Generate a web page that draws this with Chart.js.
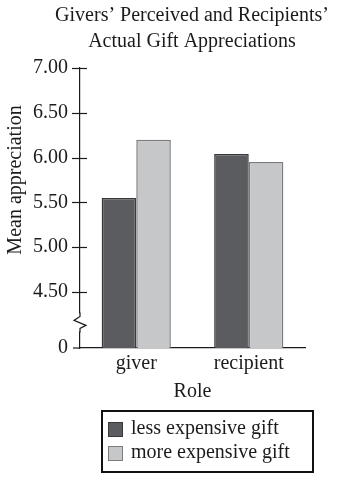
<!DOCTYPE html>
<html>
<head>
<meta charset="utf-8">
<title>Gift Appreciations</title>
<script src="https://cdn.jsdelivr.net/npm/chart.js@4.4.1/dist/chart.umd.min.js"></script>
<style>
html, body { margin: 0; padding: 0; background: #fff; }
canvas { display: block; }
</style>
</head>
<body>
<canvas id="chart" width="348" height="485"></canvas>
<script>
var roles = ['giver', 'recipient'];
var seriesNames = ['less expensive gift', 'more expensive gift'];
var lessExpensive = [5.55, 6.04];
var moreExpensive = [6.20, 5.95];
var yTickValues = [4.50, 5.00, 5.50, 6.00, 6.50, 7.00];
var titleLines = ['Givers\u2019 Perceived and Recipients\u2019', 'Actual Gift Appreciations'];
var yTitle = 'Mean appreciation';
var xTitle = 'Role';

// the axis is cut: everything below the break is shown as "0"
var axisFloor = 3.874;
var axisBreak = 4.16;

var ink = '#1d1a1b';
var serif = '"Liberation Serif", "DejaVu Serif", serif';
var fills = ['#5b5c60', '#c6c7c9'];
var edges = ['#38383b', '#7c7c80'];

function font(size) {
    return size + 'px ' + serif;
}

var decorPlugin = {
    id: 'decor',
    afterDraw: function (chart) {
        var ctx = chart.ctx;
        var area = chart.chartArea;
        var y = chart.scales.y;
        var left = area.left;
        ctx.save();
        ctx.fillStyle = ink;
        ctx.strokeStyle = ink;

        // title
        ctx.font = font(20);
        ctx.textAlign = 'center';
        ctx.textBaseline = 'alphabetic';
        ctx.fillText(titleLines[0], 192, 21);
        ctx.fillText(titleLines[1], 192, 47);

        // axis titles
        ctx.fillText(xTitle, (area.left + area.right) / 2, 397);
        ctx.save();
        ctx.translate(16, (y.getPixelForValue(7) + y.getPixelForValue(4.5)) / 2);
        ctx.rotate(-Math.PI / 2);
        ctx.textBaseline = 'middle';
        ctx.fillText(yTitle, 0, 0);
        ctx.restore();

        // tick marks cross the axis line
        ctx.lineWidth = 1.2;
        yTickValues.forEach(function (v) {
            var py = Math.round(y.getPixelForValue(v)) + 0.5;
            ctx.beginPath();
            ctx.moveTo(left - 8, py);
            ctx.lineTo(left + 7, py);
            ctx.stroke();
        });
        // x axis runs a little past the y axis
        ctx.beginPath();
        ctx.moveTo(left - 7, area.bottom);
        ctx.lineTo(left, area.bottom);
        ctx.stroke();

        // zigzag break
        var yb = y.getPixelForValue(axisBreak);
        ctx.fillStyle = '#fff';
        ctx.fillRect(left - 2, yb - 9, 4, 18);
        ctx.beginPath();
        ctx.moveTo(left, yb - 10);
        ctx.lineTo(left, yb - 6);
        ctx.lineTo(left - 6, yb - 2);
        ctx.lineTo(left + 6, yb + 3);
        ctx.lineTo(left, yb + 6);
        ctx.lineTo(left, yb + 10);
        ctx.stroke();

        // legend box
        ctx.lineWidth = 2;
        ctx.strokeStyle = '#111';
        ctx.strokeRect(102, 411, 211, 61);
        ctx.font = font(20);
        ctx.textAlign = 'left';
        ctx.textBaseline = 'middle';
        chart.data.datasets.forEach(function (ds, i) {
            var cy = 429 + i * 24;
            ctx.fillStyle = ds.backgroundColor;
            ctx.fillRect(108, cy - 7, 15, 15);
            ctx.lineWidth = 1;
            ctx.strokeStyle = ds.borderColor;
            ctx.strokeRect(108.5, cy - 6.5, 14, 14);
            ctx.fillStyle = ink;
            ctx.fillText(ds.label, 131, cy);
        });
        ctx.restore();
    }
};

var ctx = document.getElementById('chart').getContext('2d');
var chart = new Chart(ctx, {
    type: 'bar',
    data: {
        labels: roles,
        datasets: [
            {
                label: seriesNames[0],
                data: lessExpensive,
                backgroundColor: fills[0],
                borderColor: edges[0],
                borderWidth: 1.5
            },
            {
                label: seriesNames[1],
                data: moreExpensive,
                backgroundColor: fills[1],
                borderColor: edges[1],
                borderWidth: 1.5
            }]
    },
    options: {
        responsive: false,
        animation: false,
        devicePixelRatio: 1,
        layout: { padding: { top: 68, right: 43, left: 0, bottom: 0 } },
        datasets: {
            bar: { categoryPercentage: 0.615, barPercentage: 1.0 }
        },
        plugins: {
            legend: { display: false },
            title: { display: false },
            tooltip: { enabled: false }
        },
        scales: {
            x: {
                grid: { display: false, drawTicks: false },
                border: { display: true, color: ink, width: 1.2 },
                ticks: { color: ink, font: { family: serif, size: 20 }, padding: 4 },
                afterFit: function (scale) { scale.height = 137; }
            },
            y: {
                min: axisFloor,
                max: 7,
                grid: { display: false, drawTicks: false },
                border: { display: true, color: ink, width: 1.2 },
                ticks: {
                    color: ink,
                    font: { family: serif, size: 20 },
                    padding: 12,
                    callback: function (value) {
                        return value < 4 ? '0' : value.toFixed(2);
                    }
                },
                afterBuildTicks: function (scale) {
                    scale.ticks = [axisFloor].concat(yTickValues).map(function (v) {
                        return { value: v };
                    });
                },
                afterFit: function (scale) { scale.width = 80; }
            }
        }
    },
    plugins: [decorPlugin]
});
</script>
</body>
</html>
